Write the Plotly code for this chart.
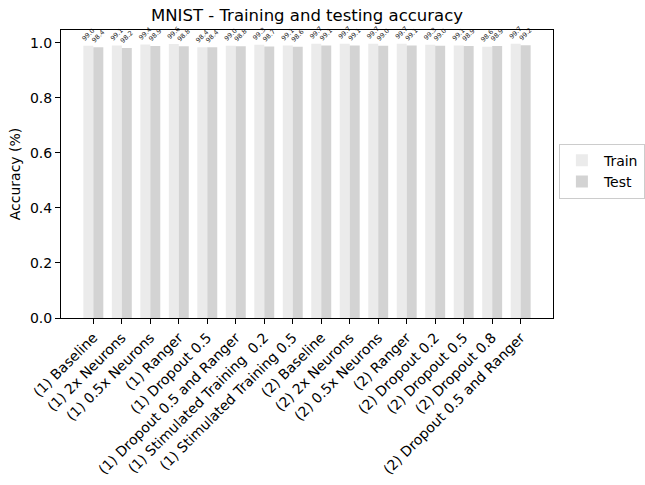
import plotly.graph_objects as go

categories = [
    "(1) Baseline", "(1) 2x Neurons", "(1) 0.5x Neurons", "(1) Ranger",
    "(1) Dropout 0.5", "(1) Dropout 0.5 and Ranger", "(1) Stimulated Training  0.2",
    "(1) Stimulated Training 0.5", "(2) Baseline", "(2) 2x Neurons",
    "(2) 0.5x Neurons", "(2) Ranger", "(2) Dropout 0.2", "(2) Dropout 0.5",
    "(2) Dropout 0.8", "(2) Dropout 0.5 and Ranger",
]
train_pct = [99.0, 99.1, 99.4, 99.6, 98.4, 99.0, 99.3, 99.1,
             99.7, 99.7, 99.7, 99.7, 99.3, 99.1, 98.6, 99.7]
test_pct = [98.4, 98.2, 98.9, 98.8, 98.4, 98.8, 98.7, 98.6,
            99.1, 99.1, 99.0, 99.1, 99.0, 98.9, 98.9, 99.2]

width = 0.35
idx = list(range(len(categories)))
font = "DejaVu Sans"
label_font = dict(size=6.5, color="#222", family=font)

fig = go.Figure()
fig.add_trace(go.Bar(
    x=[i - width / 2 for i in idx], y=[v / 100 for v in train_pct], width=width,
    name="Train", marker_color="#ebebeb", marker_line_width=0,
    text=[f"{v:.1f}" for v in train_pct], textposition="outside",
    textangle=-45, textfont=label_font,
    constraintext="none", cliponaxis=False,
))
fig.add_trace(go.Bar(
    x=[i + width / 2 for i in idx], y=[v / 100 for v in test_pct], width=width,
    name="Test", marker_color="#d3d3d3", marker_line_width=0,
    text=[f"{v:.1f}" for v in test_pct], textposition="outside",
    textangle=-45, textfont=label_font,
    constraintext="none", cliponaxis=False,
))

fig.update_layout(
    width=645, height=485,
    margin=dict(l=61, r=92, t=30, b=167, autoexpand=False),
    paper_bgcolor="white", plot_bgcolor="white",
    font=dict(family=font, size=14, color="black"),
    title=dict(text="MNIST - Training and testing accuracy", x=0.476, xanchor="center",
               y=0.969, yanchor="middle", font=dict(size=16.5)),
    barmode="overlay",
    showlegend=True,
    legend=dict(x=1.012, y=0.51, xanchor="left", yanchor="middle",
                bordercolor="#cccccc", borderwidth=1, font=dict(size=14),
                itemwidth=34),
)
fig.update_xaxes(
    range=[-1.135, 16.135], tickmode="array",
    tickvals=idx, ticktext=categories, automargin=False,
    tickangle=-45, ticks="outside", ticklen=5, tickcolor="black",
    showline=True, linecolor="black", linewidth=1, mirror=True,
    showgrid=False, zeroline=False,
)
fig.update_yaxes(
    range=[0, 1.047], tickvals=[0, 0.2, 0.4, 0.6, 0.8, 1.0], automargin=False,
    tickformat=".1f", ticks="outside", ticklen=5, tickcolor="black",
    showline=True, linecolor="black", linewidth=1, mirror=True,
    showgrid=False, zeroline=False,
    title=dict(text="Accuracy (%)", font=dict(size=14), standoff=6),
)

fig.write_html("out.html")
